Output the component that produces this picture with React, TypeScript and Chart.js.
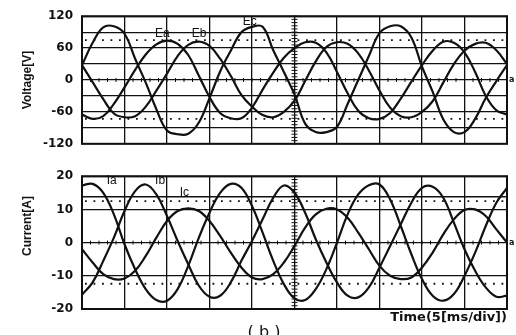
import React, { useEffect, useRef } from "react";
import { Chart, registerables } from "chart.js";

Chart.register(...registerables);

// time axis: 5 ms per division, 10 divisions
const TIME_MS = [
  0, 1.25, 2.5, 3.75, 5, 6.25, 7.5, 8.75, 10, 11.25, 12.5, 13.75, 15, 16.25, 17.5, 18.75,
  20, 21.25, 22.5, 23.75, 25, 26.25, 27.5, 28.75, 30, 31.25, 32.5, 33.75, 35, 36.25, 37.5,
  38.75, 40, 41.25, 42.5, 43.75, 45, 46.25, 47.5, 48.75, 50,
];

// voltages [V]
const EA = [
  -65, -73, -68, -45, -14, 19, 48, 67, 74, 68, 47, 8, -32, -62, -72, -72, -52, -18, 14, 42,
  60, 71, 70, 52, 15, -25, -58, -72, -73, -62, -35, -3, 28, 55, 72, 70, 52, 15, -30, -57, -65,
];
const EB = [
  28, -4, -36, -63, -70, -68, -50, -20, 12, 45, 66, 72, 64, 40, 8, -28, -50, -66, -70, -60,
  -39, -2, 35, 62, 71, 68, 50, 18, -20, -52, -68, -70, -60, -40, -5, 30, 55, 68, 70, 56, 30,
];
const EC = [
  28, 70, 99, 101, 87, 40, -5, -55, -95, -102, -101, -80, -34, 16, 55, 90, 100, 100, 56, 15,
  -27, -82, -98, -98, -88, -45, 0, 45, 88, 101, 101, 80, 25, -22, -74, -98, -98, -73, -34, -2, 28,
];

// currents [A]
const IA = [
  17.2, 17.7, 15, 8.5, -0.5, -8, -14, -17.3, -17.5, -14, -7, 1.5, 9, 15, 17.7, 16.5, 11, 3,
  -5.5, -12.5, -16.8, -17.3, -14, -8, 0, 8.5, 14.5, 17.3, 17.5, 13, 5, -3.5, -11, -16, -17.5,
  -15.5, -10, -3, 5, 12, 16.5,
];
const IB = [
  -15.7, -12, -5.5, 1.5, 9.5, 15.5, 17.5, 14.5, 8, 0.5, -6.5, -13, -16.3, -16, -12, -5.5, 0.5,
  7, 13.5, 17.2, 15, 9, 1, -6, -12, -16, -16.5, -13.5, -7.5, -1, 5.5, 12, 16.5, 16.8, 13.5, 6,
  -2, -8.5, -13.5, -16.3, -16,
];
const IC = [
  -2, -6, -9.5, -11, -10.8, -8.5, -4, 1.5, 6.5, 9.5, 10.3, 9.5, 6.5, 2, -3, -7.5, -10.5, -11,
  -9.5, -6, -1, 4.5, 8.5, 10.2, 10, 7.5, 3, -2, -7, -10, -11, -10.5, -7.5, -3, 2.5, 7, 9.8, 10,
  8, 4, 0,
];

// labelled tick values
const VOLT_TICK_LABELS = [120, 60, 0, -60, -120];
const CURR_TICK_LABELS = [20, 10, 0, -10, -20];

// cursor lines
const VOLT_DOTTED = [75, -73];
const CURR_DOTTED = [12.5, -12.4];
const CURR_SOLID = [13.8];

const INK = "#111";
const TICK_FONT = { family: "'DejaVu Sans', sans-serif", size: 12, weight: "bold" as const };

type Spec = {
  series: { label: string; data: number[] }[];
  yMin: number;
  yMax: number;
  yStep: number;
  minorY: number;
  tickLabels: number[];
  dotted: number[];
  solid: number[];
  curveLabels: { text: string; t: number; v: number }[];
  yTitle: string;
  yTitleY: number;
  topPad: number;
  bottomBox: number;
  xTitle?: string;
  caption?: string;
};

function extrasPlugin(spec: Spec) {
  return {
    id: "panelExtras",
    beforeDatasetsDraw(chart: any) {
      const { ctx, chartArea: a, scales } = chart;
      const x = scales.x;
      const y = scales.y;
      ctx.save();
      ctx.strokeStyle = INK;
      // dotted cursor lines
      ctx.lineWidth = 1.8;
      ctx.setLineDash([1.8, 6.7]);
      spec.dotted.forEach((v) => {
        const py = y.getPixelForValue(v);
        ctx.beginPath();
        ctx.moveTo(a.left + 3, py);
        ctx.lineTo(a.right, py);
        ctx.stroke();
      });
      ctx.setLineDash([]);
      ctx.lineWidth = 1.5;
      spec.solid.forEach((v) => {
        const py = y.getPixelForValue(v);
        ctx.beginPath();
        ctx.moveTo(a.left, py);
        ctx.lineTo(a.right, py);
        ctx.stroke();
      });
      // centre graticule minor marks
      ctx.lineWidth = 1;
      const cx = x.getPixelForValue(25);
      for (let v = spec.yMin; v <= spec.yMax + 1e-9; v += spec.minorY) {
        const py = y.getPixelForValue(v);
        ctx.beginPath();
        ctx.moveTo(cx - 3, py);
        ctx.lineTo(cx + 3, py);
        ctx.stroke();
      }
      const cy = y.getPixelForValue(0);
      for (let t = 0; t <= 50; t += 1) {
        const px = x.getPixelForValue(t);
        ctx.beginPath();
        ctx.moveTo(px, cy - 2);
        ctx.lineTo(px, cy + 2);
        ctx.stroke();
      }
      ctx.restore();
    },
    afterDraw(chart: any) {
      const { ctx, chartArea: a, scales } = chart;
      const x = scales.x;
      const y = scales.y;
      ctx.save();
      ctx.strokeStyle = INK;
      ctx.lineWidth = 2;
      ctx.strokeRect(a.left, a.top, a.right - a.left, a.bottom - a.top);
      ctx.fillStyle = INK;
      // curve names
      ctx.font = "12px 'Liberation Sans', Arial, sans-serif";
      ctx.textAlign = "left";
      ctx.textBaseline = "middle";
      spec.curveLabels.forEach((l) => {
        ctx.fillText(l.text, x.getPixelForValue(l.t), y.getPixelForValue(l.v));
      });
      // ground marker
      ctx.font = "bold 8px 'DejaVu Sans', sans-serif";
      ctx.fillText("a", a.right + 2, y.getPixelForValue(0));
      // y title
      ctx.save();
      ctx.translate(28, spec.yTitleY);
      ctx.rotate(-Math.PI / 2);
      ctx.font = "bold 12px 'Liberation Sans', Arial, sans-serif";
      ctx.textAlign = "center";
      ctx.textBaseline = "middle";
      ctx.fillText(spec.yTitle, 0, 0);
      ctx.restore();
      if (spec.caption) {
        ctx.font = "16px 'DejaVu Sans', sans-serif";
        ctx.textAlign = "center";
        ctx.textBaseline = "alphabetic";
        ctx.fillText(spec.caption, 264, chart.height + 2);
      }
      ctx.restore();
    },
  };
}

function Panel({ spec, top, height }: { spec: Spec; top: number; height: number }) {
  const ref = useRef<HTMLCanvasElement | null>(null);
  useEffect(() => {
    if (!ref.current) return;
    const chart = new Chart(ref.current, {
      type: "line",
      data: {
        datasets: spec.series.map((s) => ({
          label: s.label,
          data: TIME_MS.map((t, i) => ({ x: t, y: s.data[i] })),
          borderColor: INK,
          borderWidth: 2.2,
          pointRadius: 0,
          fill: false,
          tension: 0.4,
        })),
      },
      options: {
        responsive: false,
        animation: false,
        events: [],
        layout: { padding: { top: spec.topPad, right: 9, left: 0, bottom: 0 } },
        plugins: { legend: { display: false }, tooltip: { enabled: false } },
        scales: {
          x: {
            type: "linear",
            min: 0,
            max: 50,
            ticks: { stepSize: 5, display: false },
            grid: { color: INK, lineWidth: 1.3, drawTicks: false },
            border: { display: false },
            title: spec.xTitle
              ? {
                  display: true,
                  text: spec.xTitle,
                  align: "end",
                  color: INK,
                  font: { family: "'DejaVu Sans', sans-serif", size: 13, weight: "bold" },
                  padding: { top: 0, bottom: 10 },
                }
              : { display: false },
            afterFit: (s: any) => {
              s.height = spec.bottomBox;
            },
          },
          y: {
            type: "linear",
            min: spec.yMin,
            max: spec.yMax,
            ticks: {
              stepSize: spec.yStep,
              padding: 9,
              color: INK,
              font: TICK_FONT,
              callback: (v: any) => (spec.tickLabels.includes(Number(v)) ? String(v) : ""),
            },
            grid: { color: INK, lineWidth: 1.3, drawTicks: false },
            border: { display: false },
            afterFit: (s: any) => {
              s.width = 82;
            },
          },
        },
      } as any,
      plugins: [extrasPlugin(spec)],
    });
    return () => chart.destroy();
  }, [spec]);
  return (
    <canvas
      ref={ref}
      width={516}
      height={height}
      style={{ position: "absolute", left: 0, top, width: 516, height, display: "block" }}
    />
  );
}

const VOLT_SPEC: Spec = {
  series: [
    { label: "Ea", data: EA },
    { label: "Eb", data: EB },
    { label: "Ec", data: EC },
  ],
  yMin: -120,
  yMax: 120,
  yStep: 30,
  minorY: 6,
  tickLabels: VOLT_TICK_LABELS,
  dotted: VOLT_DOTTED,
  solid: [],
  curveLabels: [
    { text: "Ea", t: 8.6, v: 88 },
    { text: "Eb", t: 12.9, v: 88 },
    { text: "Ec", t: 18.9, v: 109 },
  ],
  yTitle: "Voltage[V]",
  yTitleY: 80,
  topPad: 13,
  bottomBox: 4,
};

const CURR_SPEC: Spec = {
  series: [
    { label: "Ia", data: IA },
    { label: "Ib", data: IB },
    { label: "Ic", data: IC },
  ],
  yMin: -20,
  yMax: 20,
  yStep: 5,
  minorY: 1,
  tickLabels: CURR_TICK_LABELS,
  dotted: CURR_DOTTED,
  solid: CURR_SOLID,
  curveLabels: [
    { text: "Ia", t: 2.9, v: 18.5 },
    { text: "Ib", t: 8.6, v: 18.5 },
    { text: "Ic", t: 11.5, v: 14.9 },
  ],
  yTitle: "Current[A]",
  yTitleY: 66,
  topPad: 7,
  bottomBox: 26,
  xTitle: "Time(5[ms/div])",
  caption: "( b )",
};

export default function App() {
  return (
    <div style={{ position: "absolute", left: 0, top: 0, width: 516, height: 335, background: "#fff", overflow: "hidden" }}>
      <Panel spec={VOLT_SPEC} top={0} height={160} />
      <Panel spec={CURR_SPEC} top={160} height={175} />
    </div>
  );
}
